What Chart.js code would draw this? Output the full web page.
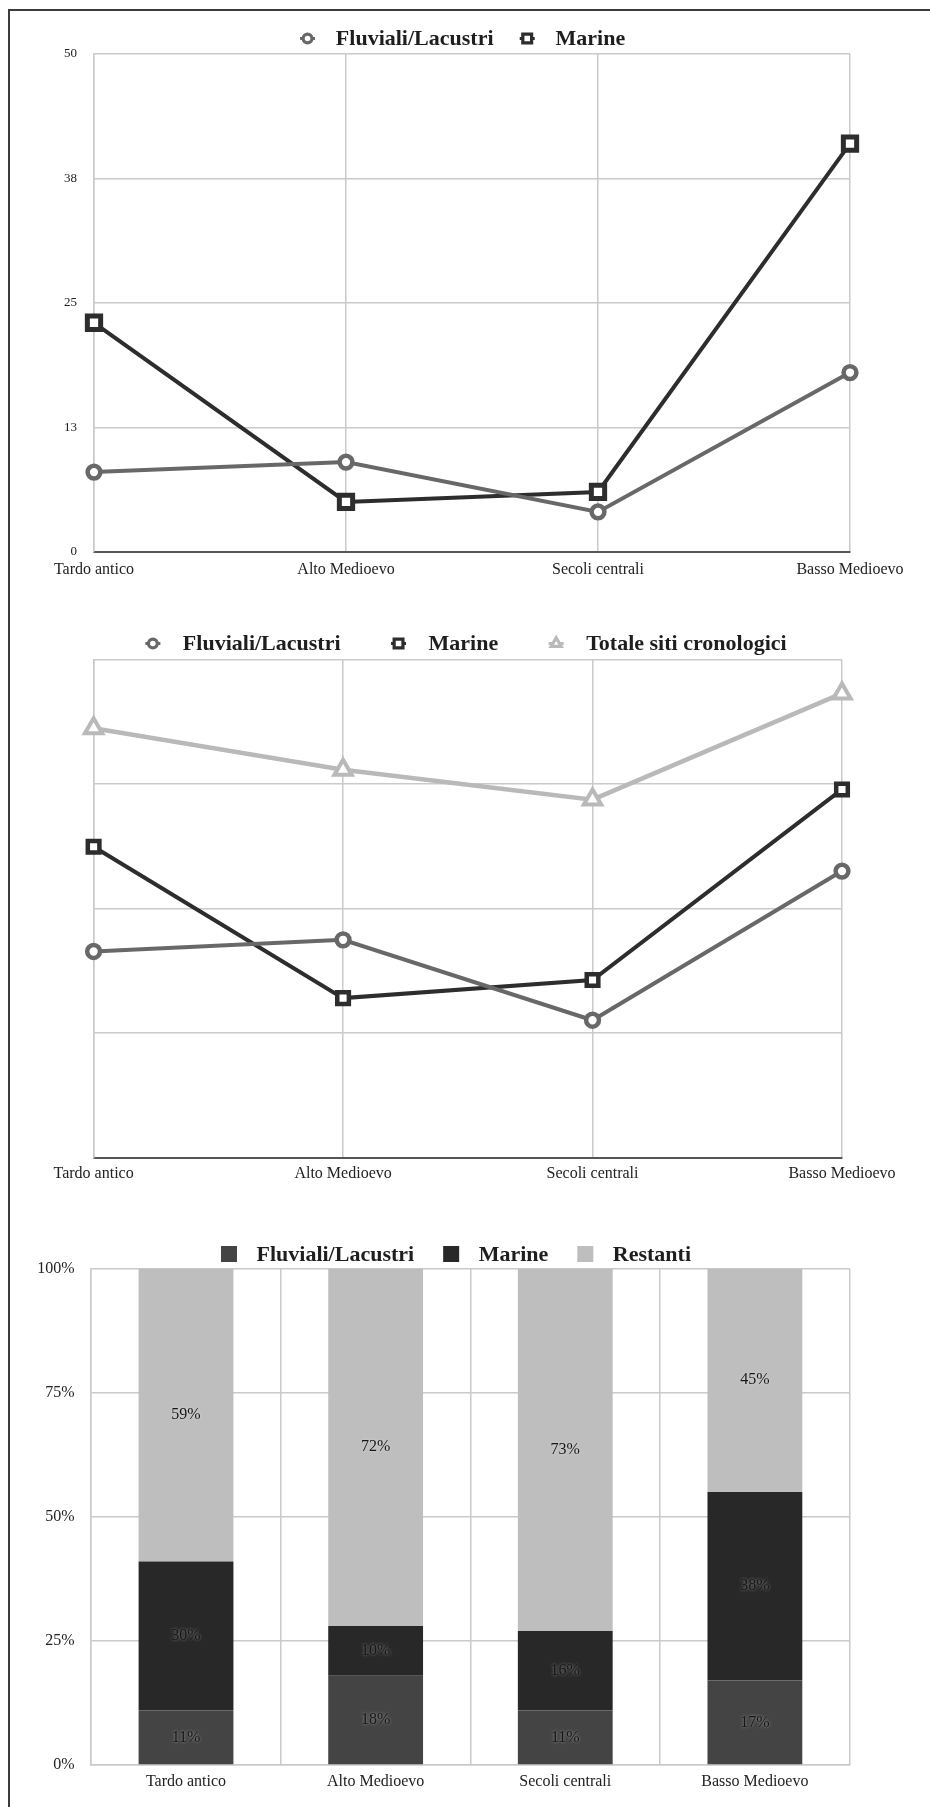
<!DOCTYPE html>
<html lang="it">
<head>
<meta charset="utf-8">
<title>Siti fluviali/lacustri e marini per periodo</title>
<script src="https://cdn.jsdelivr.net/npm/chart.js@4.4.1/dist/chart.umd.min.js"></script>
<style>
  html, body { margin: 0; padding: 0; background: #fff; }
  body { width: 930px; height: 1807px; position: relative; overflow: hidden; }
  .frame { position: absolute; left: 8px; top: 9px; width: 940px; height: 1820px;
           border-top: 2px solid #3c3c3c; border-left: 2px solid #3c3c3c; }
  .box { position: absolute; left: 0; width: 930px; }
  #b1 { top: 0; height: 600px; }
  #b2 { top: 600px; height: 600px; }
  #b3 { top: 1200px; height: 607px; }
</style>
</head>
<body>
<div class="frame"></div>
<div class="box" id="b1"><canvas id="c1"></canvas></div>
<div class="box" id="b2"><canvas id="c2"></canvas></div>
<div class="box" id="b3"><canvas id="c3"></canvas></div>
<script>
// Periods and site counts
const periods = ['Tardo antico', 'Alto Medioevo', 'Secoli centrali', 'Basso Medioevo'];
const fluviali = [8, 9, 4, 18];
const marine = [23, 5, 6, 41];
const totale = [76, 50, 37, 108];

// Shares of each period's sites (%)
const pctFluviali = [11, 18, 11, 17];
const pctMarine = [30, 10, 16, 38];
const pctRestanti = [59, 72, 73, 45];

// Axis ticks
const countTicks = [0, 12.5, 25, 37.5, 50];
const countTickLabels = ['0', '13', '25', '38', '50'];
const pctTicks = [0, 25, 50, 75, 100];
const pctTickLabels = ['0%', '25%', '50%', '75%', '100%'];

const SERIF = '"Liberation Serif", "Times New Roman", serif';
Chart.defaults.font.family = SERIF;
Chart.defaults.color = '#222';

const C_FLU = '#686868';
const C_MAR = '#2d2d2d';
const C_TOT = '#b9b9b9';
const C_GRID = '#cacaca';

function drawMarker(ctx, style, x, y, r) {
  ctx.beginPath();
  if (style === 'circle') {
    ctx.arc(x, y, r, 0, Math.PI * 2);
  } else if (style === 'rect') {
    ctx.rect(x - r, y - r, 2 * r, 2 * r);
  } else if (style === 'triangle') {
    ctx.moveTo(x, y - r * 1.15);
    ctx.lineTo(x + r * 1.15 * 0.866, y + r * 0.575);
    ctx.lineTo(x - r * 1.15 * 0.866, y + r * 0.575);
    ctx.closePath();
  }
  ctx.fill();
  ctx.stroke();
}

// One-row legend centred at cx, built from the chart's datasets
function legendRow(cfg) {
  return {
    id: 'legendRow',
    afterDraw(chart) {
      const ctx = chart.ctx;
      const items = chart.data.datasets.map(ds => ({
        text: ds.label,
        color: cfg.kind === 'box' ? ds.backgroundColor : ds.borderColor,
        style: ds.pointStyle
      }));
      ctx.save();
      ctx.font = cfg.font;
      const widths = items.map(it => ctx.measureText(it.text).width);
      const mw = cfg.markerWidth;
      let total = mw / 2;
      widths.forEach((w, i) => {
        total += cfg.textGap + w;
        if (i < widths.length - 1) total += cfg.itemGap;
      });
      let cx = cfg.cx - total / 2 + mw / 2;
      const y = cfg.cy;
      items.forEach((it, i) => {
        if (cfg.kind === 'box') {
          ctx.fillStyle = it.color;
          ctx.fillRect(cx - mw / 2, y - mw / 2, mw, mw);
        } else {
          ctx.strokeStyle = it.color;
          ctx.lineWidth = 3;
          ctx.beginPath();
          ctx.moveTo(cx - mw / 2, y);
          ctx.lineTo(cx + mw / 2, y);
          ctx.stroke();
          ctx.fillStyle = '#fff';
          ctx.lineWidth = 3.2;
          drawMarker(ctx, it.style, cx, y, it.style === 'triangle' ? 5 : 4.4);
        }
        ctx.fillStyle = '#1e1e1e';
        ctx.textAlign = 'left';
        ctx.textBaseline = 'middle';
        ctx.fillText(it.text, cx + cfg.textGap, y + 1);
        cx += cfg.textGap + widths[i] + cfg.itemGap;
      });
      ctx.restore();
    }
  };
}

// Percentage labels centred in each stacked segment
const segmentLabels = {
  id: 'segmentLabels',
  afterDatasetsDraw(chart) {
    const ctx = chart.ctx;
    ctx.save();
    ctx.font = '16px ' + SERIF;
    ctx.textAlign = 'center';
    ctx.textBaseline = 'middle';
    ctx.fillStyle = '#161616';
    ctx.shadowColor = 'rgba(255,255,255,0.5)';
    ctx.shadowBlur = 3;
    chart.data.datasets.forEach((ds, di) => {
      chart.getDatasetMeta(di).data.forEach((bar, i) => {
        ctx.fillText(ds.data[i] + '%', bar.x, (bar.y + bar.base) / 2);
      });
    });
    ctx.restore();
  }
};

function lineSet(label, data, color, style, radius, pbw, lw) {
  return {
    label, data,
    borderColor: color, backgroundColor: '#fff',
    borderWidth: lw, tension: 0,
    pointStyle: style, pointRadius: radius, pointHoverRadius: radius,
    pointBorderWidth: pbw, pointBackgroundColor: '#fff', pointBorderColor: color
  };
}

const baseOpts = {
  responsive: true,
  maintainAspectRatio: false,
  animation: false,
  events: [],
  plugins: { legend: { display: false }, tooltip: { enabled: false } }
};

// Chart 1: counts, linear axis
new Chart(document.getElementById('c1'), {
  type: 'line',
  data: {
    labels: periods,
    datasets: [
      lineSet('Fluviali/Lacustri', fluviali, C_FLU, 'circle', 6.4, 4.5, 4),
      lineSet('Marine', marine, C_MAR, 'rect', 9.4, 5, 4)
    ]
  },
  options: {
    ...baseOpts,
    layout: { padding: { top: 54, right: 80, bottom: 0, left: 0 } },
    scales: {
      x: {
        offset: false,
        grid: { color: C_GRID, lineWidth: 1.5, drawTicks: false },
        border: { color: '#555', width: 2 },
        ticks: { font: { size: 16 }, padding: 8, maxRotation: 0 },
        afterFit(s) { s.height = 48.3; }
      },
      y: {
        min: 0, max: 50,
        afterBuildTicks(s) { s.ticks = countTicks.map(v => ({ value: v })); },
        ticks: { font: { size: 13 }, padding: 17, callback: (v, i) => countTickLabels[i] },
        grid: { color: c => (c.tick && c.tick.value === 0 ? 'rgba(0,0,0,0)' : C_GRID), lineWidth: 1.5, drawTicks: false },
        border: { color: C_GRID, width: 1.5 },
        afterFit(s) { s.width = 94; }
      }
    }
  },
  plugins: [legendRow({ kind: 'line', font: 'bold 22px ' + SERIF, cx: 462.6, cy: 38.5, markerWidth: 15, textGap: 28.3, itemGap: 33.7 })]
});

// Chart 2: counts and totals, logarithmic axis
const LOG_MIN = 1, LOG_MAX = 152;
new Chart(document.getElementById('c2'), {
  type: 'line',
  data: {
    labels: periods,
    datasets: [
      lineSet('Fluviali/Lacustri', fluviali, C_FLU, 'circle', 6.4, 4.5, 4),
      lineSet('Marine', marine, C_MAR, 'rect', 8.2, 4.5, 4),
      lineSet('Totale siti cronologici', totale, C_TOT, 'triangle', 10, 4, 4.5)
    ]
  },
  options: {
    ...baseOpts,
    layout: { padding: { top: 59.5, right: 88, bottom: 0, left: 0 } },
    scales: {
      x: {
        offset: false,
        grid: { color: C_GRID, lineWidth: 1.5, drawTicks: false },
        border: { color: '#555', width: 2 },
        ticks: { font: { size: 16 }, padding: 6.5, maxRotation: 0 },
        afterFit(s) { s.height = 42.3; }
      },
      y: {
        type: 'logarithmic',
        min: LOG_MIN, max: LOG_MAX,
        afterBuildTicks(s) {
          s.ticks = [0, 1, 2, 3, 4].map(k => ({ value: LOG_MIN * Math.pow(LOG_MAX / LOG_MIN, k / 4) }));
        },
        ticks: { display: false },
        grid: { color: c => (c.index === 0 ? 'rgba(0,0,0,0)' : C_GRID), lineWidth: 1.5, drawTicks: false },
        border: { color: C_GRID, width: 1.5 },
        afterFit(s) { s.width = 93.6; }
      }
    }
  },
  plugins: [legendRow({ kind: 'line', font: 'bold 22px ' + SERIF, cx: 466, cy: 43.5, markerWidth: 15, textGap: 30, itemGap: 58 })]
});

// Chart 3: 100% stacked bars
new Chart(document.getElementById('c3'), {
  type: 'bar',
  data: {
    labels: periods,
    datasets: [
      { label: 'Fluviali/Lacustri', data: pctFluviali, backgroundColor: '#444444' },
      { label: 'Marine', data: pctMarine, backgroundColor: '#282828' },
      { label: 'Restanti', data: pctRestanti, backgroundColor: '#bebebe' }
    ]
  },
  options: {
    ...baseOpts,
    datasets: { bar: { barPercentage: 0.5, categoryPercentage: 1, borderWidth: 0 } },
    layout: { padding: { top: 68.5, right: 80.3, bottom: 0, left: 0 } },
    scales: {
      x: {
        stacked: true,
        offset: true,
        grid: { offset: true, color: C_GRID, lineWidth: 1.5, drawTicks: false },
        border: { color: C_GRID, width: 1.5 },
        ticks: { font: { size: 16 }, padding: 7, maxRotation: 0 },
        afterFit(s) { s.height = 42; }
      },
      y: {
        stacked: true,
        min: 0, max: 100,
        afterBuildTicks(s) { s.ticks = pctTicks.map(v => ({ value: v })); },
        ticks: { font: { size: 16 }, padding: 16.7, callback: (v, i) => pctTickLabels[i] },
        grid: { color: C_GRID, lineWidth: 1.5, drawTicks: false },
        border: { color: C_GRID, width: 1.5 },
        afterFit(s) { s.width = 91.2; }
      }
    }
  },
  plugins: [segmentLabels, legendRow({ kind: 'box', font: 'bold 22px ' + SERIF, cx: 456, cy: 54, markerWidth: 16, textGap: 27.5, itemGap: 37 })]
});
</script>
</body>
</html>
